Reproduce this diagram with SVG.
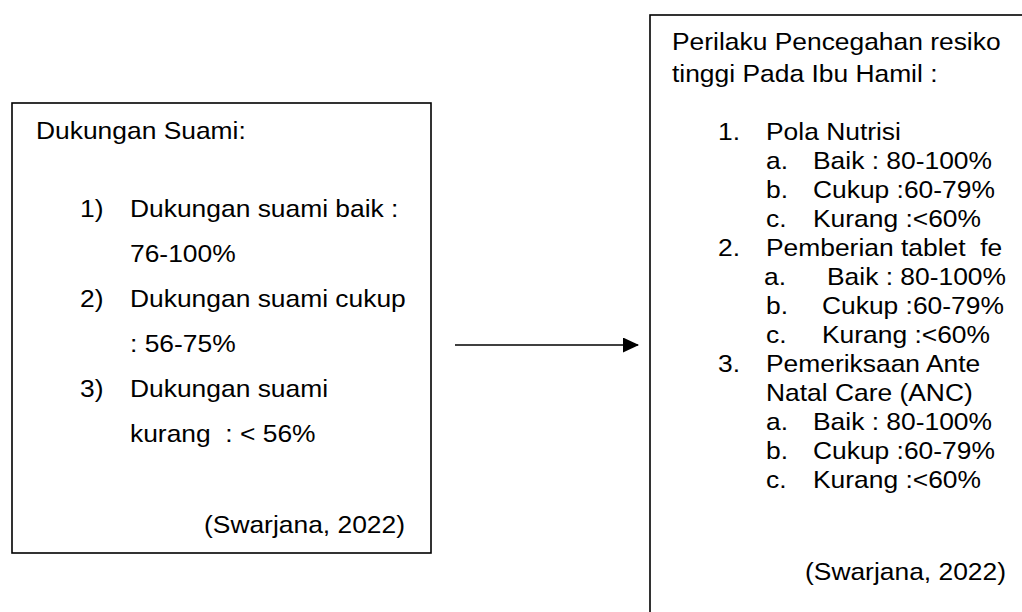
<svg xmlns="http://www.w3.org/2000/svg" width="1022" height="612" viewBox="0 0 1022 612">
<style>
.box{fill:#fff;stroke:#000;stroke-width:1.6}
.t{font-family:"Liberation Sans",Arial,sans-serif;font-size:24px;fill:#000;white-space:pre}
.conn{stroke:#000;stroke-width:1.6;fill:none}
</style>
<defs>
<marker id="ah" markerWidth="16" markerHeight="16" refX="15" refY="7.5" orient="auto" markerUnits="userSpaceOnUse">
<path d="M0,0 L16,7.5 L0,15 Z" fill="#000"/>
</marker>
</defs>
<rect width="1022" height="612" fill="#fff"/>
<g id="dukungan-suami">
<rect class="box" x="12" y="103" width="419" height="450"/>
<text class="t" transform="translate(36,139) scale(1.1,1)">Dukungan Suami:</text>
<text class="t" transform="translate(80,217) scale(1.1,1)">1)</text>
<text class="t" transform="translate(130,217) scale(1.1,1)">Dukungan suami baik :</text>
<text class="t" transform="translate(130,262) scale(1.1,1)">76-100%</text>
<text class="t" transform="translate(80,307) scale(1.1,1)">2)</text>
<text class="t" transform="translate(130,307) scale(1.1,1)">Dukungan suami cukup</text>
<text class="t" transform="translate(130,352) scale(1.1,1)">: 56-75%</text>
<text class="t" transform="translate(80,397) scale(1.1,1)">3)</text>
<text class="t" transform="translate(130,397) scale(1.1,1)">Dukungan suami</text>
<text class="t" transform="translate(130,442) scale(1.1,1)" xml:space="preserve">kurang  : &lt; 56%</text>
<text class="t" transform="translate(204,533) scale(1.1,1)">(Swarjana, 2022)</text>
</g>
<g id="perilaku-pencegahan">
<rect class="box" x="650" y="15" width="400" height="620"/>
<text class="t" transform="translate(672,50) scale(1.1,1)">Perilaku Pencegahan resiko</text>
<text class="t" transform="translate(672,82) scale(1.1,1)">tinggi Pada Ibu Hamil :</text>
<text class="t" transform="translate(718,140) scale(1.1,1)">1.</text>
<text class="t" transform="translate(766,140) scale(1.1,1)">Pola Nutrisi</text>
<text class="t" transform="translate(766,169) scale(1.1,1)">a.</text>
<text class="t" transform="translate(813,169) scale(1.1,1)">Baik : 80-100%</text>
<text class="t" transform="translate(766,198) scale(1.1,1)">b.</text>
<text class="t" transform="translate(813,198) scale(1.1,1)">Cukup :60-79%</text>
<text class="t" transform="translate(766,227) scale(1.1,1)">c.</text>
<text class="t" transform="translate(813,227) scale(1.1,1)">Kurang :&lt;60%</text>
<text class="t" transform="translate(718,256) scale(1.1,1)">2.</text>
<text class="t" transform="translate(766,256) scale(1.1,1)" xml:space="preserve">Pemberian tablet  fe</text>
<text class="t" transform="translate(764,285) scale(1.1,1)">a.</text>
<text class="t" transform="translate(827,285) scale(1.1,1)">Baik : 80-100%</text>
<text class="t" transform="translate(766,314) scale(1.1,1)">b.</text>
<text class="t" transform="translate(822,314) scale(1.1,1)">Cukup :60-79%</text>
<text class="t" transform="translate(766,343) scale(1.1,1)">c.</text>
<text class="t" transform="translate(822,343) scale(1.1,1)">Kurang :&lt;60%</text>
<text class="t" transform="translate(718,372) scale(1.1,1)">3.</text>
<text class="t" transform="translate(766,372) scale(1.1,1)">Pemeriksaan Ante</text>
<text class="t" transform="translate(766,401) scale(1.1,1)">Natal Care (ANC)</text>
<text class="t" transform="translate(766,430) scale(1.1,1)">a.</text>
<text class="t" transform="translate(813,430) scale(1.1,1)">Baik : 80-100%</text>
<text class="t" transform="translate(766,459) scale(1.1,1)">b.</text>
<text class="t" transform="translate(813,459) scale(1.1,1)">Cukup :60-79%</text>
<text class="t" transform="translate(766,488) scale(1.1,1)">c.</text>
<text class="t" transform="translate(813,488) scale(1.1,1)">Kurang :&lt;60%</text>
<text class="t" transform="translate(805,580) scale(1.1,1)">(Swarjana, 2022)</text>
</g>
<g id="connectors">
<line class="conn" x1="455" y1="345" x2="638" y2="345" marker-end="url(#ah)"/>
</g>
</svg>
